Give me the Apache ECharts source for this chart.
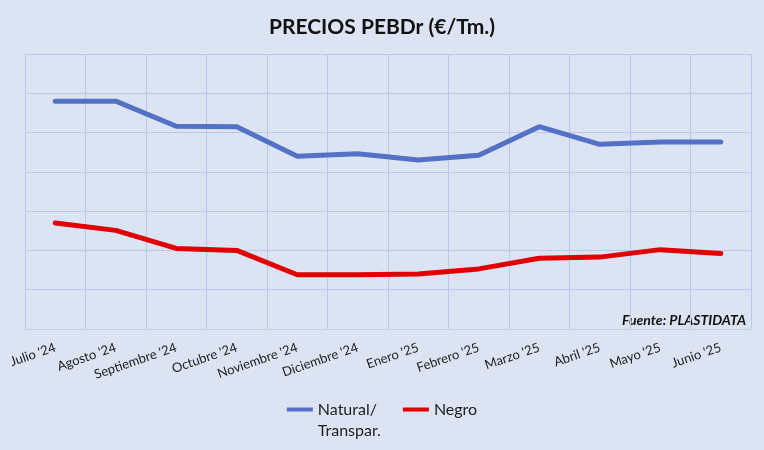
<!DOCTYPE html>
<html>
<head>
<meta charset="utf-8">
<script src="https://cdn.jsdelivr.net/npm/echarts@6/dist/echarts.min.js"></script>
<style>
  html, body { margin: 0; padding: 0; background: #dce3f3; }
  #chart { width: 764px; height: 450px; }
</style>
</head>
<body>
<div id="chart"></div>
<script>
// months shown on the x axis
var months = ["Julio '24", "Agosto '24", "Septiembre '24", "Octubre '24", "Noviembre '24", "Diciembre '24",
              "Enero '25", "Febrero '25", "Marzo '25", "Abril '25", "Mayo '25", "Junio '25"];
// values (y axis has no labels, grid step = 100)
var natural = [580, 580, 516, 515, 440, 446, 430, 442, 515, 470, 476, 476];
var negro   = [270, 251, 205, 200, 138, 138, 140, 153, 180, 183, 202, 192];

var myChart = echarts.init(document.getElementById('chart'));
var option = {
    backgroundColor: '#dce3f3',
    title: {
        text: 'PRECIOS PEBDr (€/Tm.)',
        left: 'center',
        top: 12,
        textStyle: { fontFamily: 'Lato', fontWeight: 'bold', fontSize: 21, color: '#111' }
    },
    legend: {
        data: ['Natural/ Transpar.', 'Negro'],
        left: 'center',
        top: 373,
        itemWidth: 26,
        itemHeight: 4,
        itemGap: 22,
        icon: 'rect',
        formatter: function (name) {
            return name === 'Negro' ? 'Negro' : '\nNatural/\nTranspar.';
        },
        textStyle: { fontFamily: 'Lato', fontSize: 16, color: '#222', lineHeight: 21 }
    },
    graphic: [{
        type: 'text',
        right: 18,
        top: 313,
        style: { text: 'Fuente: PLASTIDATA', fontFamily: 'Lato', fontSize: 14,
                 fontWeight: 'bold', fontStyle: 'italic', fill: '#111' }
    }],
    grid: { left: 25, right: 13, top: 54, bottom: 121, containLabel: false },
    xAxis: {
        type: 'category',
        boundaryGap: true,
        data: months,
        axisLine: { show: true, lineStyle: { color: '#c9d0df', width: 1 } },
        axisTick: { show: false },
        splitLine: { show: true, lineStyle: { color: '#b9c8e8', width: 1 } },
        axisLabel: { rotate: 19, interval: 0, margin: 18, fontFamily: 'Lato', fontSize: 13, color: '#222' }
    },
    yAxis: {
        type: 'value',
        min: 0,
        max: 700,
        interval: 100,
        axisLabel: { show: false },
        axisLine: { show: false },
        axisTick: { show: false },
        splitLine: { show: true, lineStyle: { color: '#b9c8e8', width: 1 } }
    },
    series: [
        {
            name: 'Natural/ Transpar.',
            type: 'line',
            data: natural,
            symbol: 'none',
            color: '#5372c6',
            lineStyle: { width: 5, color: '#5372c6', cap: 'round' }
        },
        {
            name: 'Negro',
            type: 'line',
            data: negro,
            symbol: 'none',
            color: '#e00000',
            lineStyle: { width: 5, color: '#e00000', cap: 'round' }
        }
    ]
};
myChart.setOption(option);
window.onresize = myChart.resize;
</script>
</body>
</html>
